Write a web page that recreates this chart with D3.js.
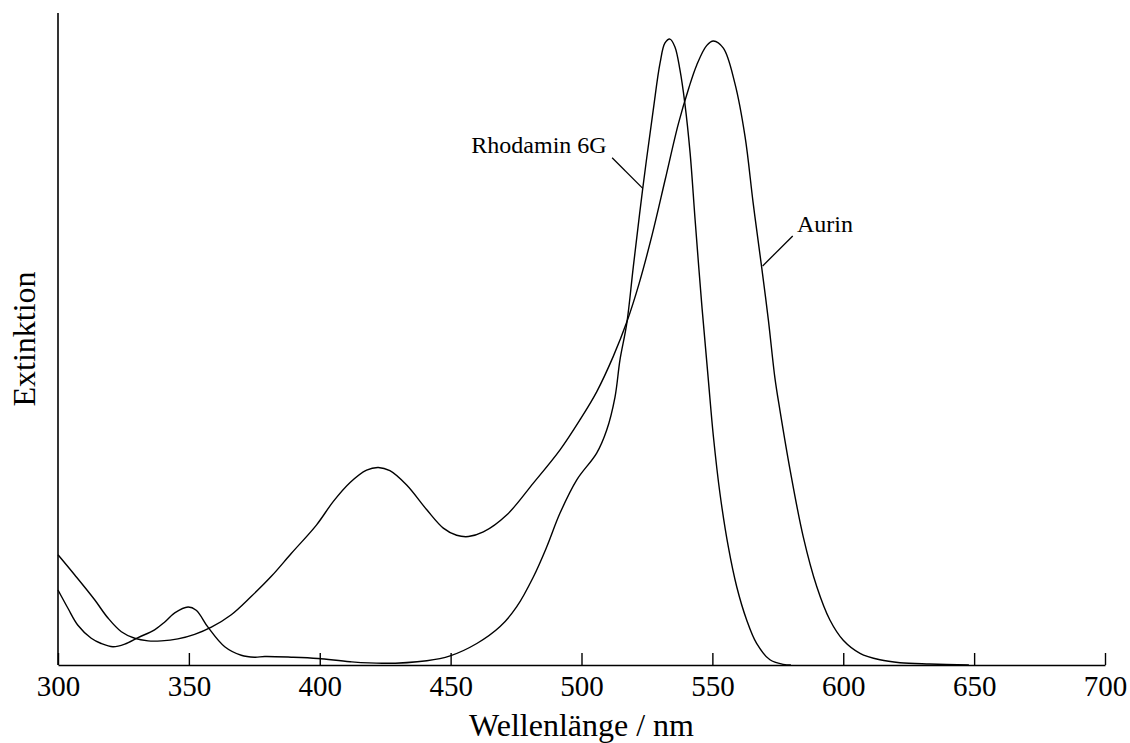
<!DOCTYPE html>
<html>
<head>
<meta charset="utf-8">
<script src="https://cdn.jsdelivr.net/npm/d3@7"></script>
<style>
  html, body { margin: 0; padding: 0; background: #fff; }
  svg { display: block; }
  svg text { font-family: "Liberation Serif", "Times New Roman", serif !important; fill: #000; }
</style>
</head>
<body>
<svg id="chart" width="1130" height="743"></svg>
<script>
// Absorption spectra (relative extinction) of two dyes
const xTicks = [300, 350, 400, 450, 500, 550, 600, 650, 700];

const rhodaminNm = [300, 303.8, 307.6, 312.7, 316.5, 321.0, 325.5, 330.6, 336.9, 340.8,
  344.6, 349.7, 352.8, 357.3, 363.7, 370.0, 375.1, 379.0, 389.1, 399.3,
  411.6, 424.3, 440.9, 449.8, 460.0, 468.9, 475.2, 481.6, 486.7, 491.8,
  498.2, 505.8, 509.6, 512.8, 514.7, 517.3, 519.8, 523.4, 527.4, 530.0,
  531.9, 533.8, 535.7, 537.6, 539.5, 541.5, 543.4, 545.9, 548.4, 550.4,
  552.9, 556.1, 559.3, 563.1, 566.9, 572.0, 577.1, 580.0];
const rhodaminExt = [0.115, 0.087, 0.061, 0.041, 0.033, 0.028, 0.032, 0.042, 0.054, 0.066,
  0.080, 0.089, 0.084, 0.058, 0.028, 0.015, 0.012, 0.013, 0.012, 0.010,
  0.005, 0.0026, 0.0066, 0.014, 0.033, 0.059, 0.089, 0.135, 0.181, 0.233,
  0.284, 0.325, 0.360, 0.411, 0.468, 0.524, 0.611, 0.731, 0.851, 0.923,
  0.954, 0.960, 0.948, 0.913, 0.861, 0.785, 0.683, 0.555, 0.440, 0.350,
  0.263, 0.181, 0.120, 0.069, 0.033, 0.008, 0.001, 0.0];

const aurinNm = [300, 306.4, 314.0, 319.1, 324.2, 329.3, 334.4, 339.5, 345.8, 352.2,
  358.6, 366.2, 373.8, 381.5, 389.1, 398.8, 405.2, 411.6, 417.9, 422.4,
  426.8, 433.2, 440.9, 447.2, 452.3, 456.8, 462.5, 471.4, 481.6, 491.8,
  499.4, 505.8, 512.1, 517.3, 522.0, 527.0, 532.0, 537.0, 541.0, 544.0, 547.8,
  550.4, 554.2, 558.6, 562.5, 565.6, 568.8, 571.4, 573.9, 575.8, 579.7,
  584.7, 589.9, 594.9, 600.0, 606.4, 614.0, 621.7, 633.0, 648.0];
const aurinExt = [0.169, 0.138, 0.100, 0.072, 0.051, 0.041, 0.037, 0.037, 0.040, 0.047,
  0.058, 0.077, 0.105, 0.136, 0.171, 0.215, 0.251, 0.280, 0.299, 0.303,
  0.298, 0.276, 0.238, 0.210, 0.199, 0.197, 0.204, 0.230, 0.279, 0.330,
  0.376, 0.419, 0.473, 0.526, 0.585, 0.660, 0.745, 0.830, 0.885, 0.920, 0.950,
  0.957, 0.946, 0.892, 0.810, 0.708, 0.611, 0.529, 0.440, 0.391, 0.299,
  0.197, 0.120, 0.069, 0.038, 0.018, 0.008, 0.0035, 0.0015, 0.0];

// Curve labels with leader lines: [label position, leader start, leader end on the curve]
const labels = [
  { text: "Rhodamin 6G", at: [457.9, 0.785], from: [511.7, 0.778], to: [523.4, 0.731] },
  { text: "Aurin", at: [582.3, 0.664], from: [580.7, 0.658], to: [569.2, 0.612] }
];

const svg = d3.select("#chart");
const margin = { left: 58, right: 25, top: 13, bottom: 78 };
const W = 1130, H = 743;
const serif = '"Liberation Serif", "Times New Roman", serif';

const x = d3.scaleLinear().domain([300, 700]).range([margin.left, W - margin.right]);
const y = d3.scaleLinear().domain([0, 1]).range([H - margin.bottom, margin.top]);

const line = d3.line()
  .x(d => x(d[0]))
  .y(d => y(d[1]))
  .curve(d3.curveCatmullRom.alpha(0.5));

const series = [
  d3.zip(rhodaminNm, rhodaminExt),
  d3.zip(aurinNm, aurinExt)
];

svg.append("g")
  .selectAll("path")
  .data(series)
  .join("path")
  .attr("d", line)
  .attr("fill", "none")
  .attr("stroke", "#000")
  .attr("stroke-width", 1.4);

// x axis with inward ticks
const xAxis = d3.axisBottom(x)
  .tickValues(xTicks)
  .tickFormat(d3.format("d"))
  .tickSizeInner(-12)
  .tickSizeOuter(0)
  .tickPadding(10);

const gx = svg.append("g")
  .attr("transform", `translate(0,${y(0)})`)
  .call(xAxis)
  .attr("font-family", serif)
  .attr("font-size", 29);
gx.select(".domain").attr("stroke", "#000").attr("stroke-width", 1.6);
gx.selectAll(".tick line").attr("stroke", "#000").attr("stroke-width", 1.4);
gx.selectAll(".tick text")
  .style("font-family", serif)
  .style("font-size", "29px")
  .attr("fill", "#000");

// y axis: plain line without ticks
svg.append("line")
  .attr("x1", x(300)).attr("x2", x(300))
  .attr("y1", y(1)).attr("y2", y(0))
  .attr("stroke", "#000")
  .attr("stroke-width", 1.6);

// axis titles
svg.append("text")
  .attr("x", (x(300) + x(700)) / 2)
  .attr("y", 736)
  .attr("text-anchor", "middle")
  .style("font-family", serif)
  .style("font-size", "32px")
  .text("Wellenlänge / nm");

svg.append("text")
  .attr("transform", `translate(35,${(y(0) + y(1)) / 2}) rotate(-90)`)
  .attr("text-anchor", "middle")
  .style("font-family", serif)
  .style("font-size", "32px")
  .text("Extinktion");

// curve labels
const gl = svg.append("g");
gl.selectAll("line")
  .data(labels)
  .join("line")
  .attr("x1", d => x(d.from[0])).attr("y1", d => y(d.from[1]))
  .attr("x2", d => x(d.to[0])).attr("y2", d => y(d.to[1]))
  .attr("stroke", "#000")
  .attr("stroke-width", 1.3);
gl.selectAll("text")
  .data(labels)
  .join("text")
  .attr("x", d => x(d.at[0]))
  .attr("y", d => y(d.at[1]))
  .style("font-family", serif)
  .style("font-size", "24px")
  .text(d => d.text);
</script>
</body>
</html>
